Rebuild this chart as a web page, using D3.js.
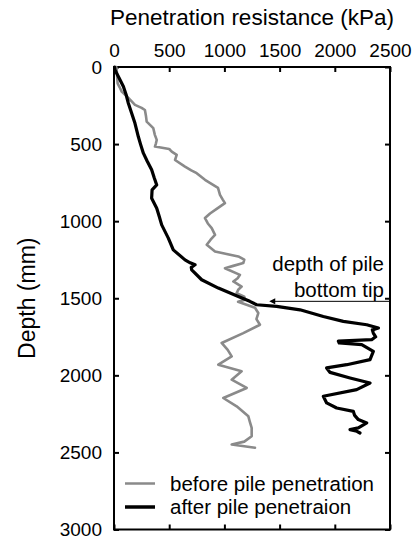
<!DOCTYPE html>
<html>
<head>
<meta charset="utf-8">
<script src="https://cdn.jsdelivr.net/npm/d3@7"></script>
<style>
  html, body { margin: 0; padding: 0; background: #fff; }
  svg { display: block; font-family: "Liberation Sans", Arial, Helvetica, sans-serif; }
</style>
</head>
<body>
<svg id="chart" width="415" height="542"></svg>
<script>
// ---- data ----
const xTicks = [0, 500, 1000, 1500, 2000, 2500];
const yTicks = [0, 500, 1000, 1500, 2000, 2500, 3000];

const beforeDepth = [0, 15, 60, 106, 130, 160, 200, 246, 265, 279, 320, 354, 397, 440, 473, 495, 516, 532, 549, 570, 603, 646, 670, 689, 732, 784, 829, 860, 883, 920, 950, 980, 1015, 1045, 1089, 1120, 1153, 1197, 1229, 1250, 1272, 1290, 1305, 1348, 1370, 1391, 1424, 1445, 1467, 1490, 1510, 1523, 1562, 1596, 1635, 1672, 1726, 1790, 1835, 1877, 1931, 1974, 2028, 2082, 2147, 2201, 2266, 2300, 2341, 2395, 2430, 2449, 2470];
const beforeVal   = [20, 24, 28, 33, 50, 70, 130, 190, 250, 280, 290, 296, 356, 370, 387, 380, 371, 500, 523, 568, 553, 643, 700, 749, 824, 942, 960, 985, 1005, 930, 870, 824, 850, 885, 915, 875, 840, 915, 1126, 1180, 1171, 1080, 1005, 1141, 1120, 1081, 1156, 1125, 1111, 1180, 1187, 1124, 1277, 1307, 1290, 1322, 1171, 975, 1030, 1066, 945, 1156, 1066, 1202, 990, 1111, 1217, 1230, 1247, 1247, 1180, 1066, 1277];

const afterDepth = [0, 19, 70, 127, 180, 235, 300, 365, 451, 500, 559, 610, 667, 720, 765, 797, 851, 916, 970, 1024, 1110, 1186, 1251, 1270, 1283, 1300, 1316, 1380, 1434, 1488, 1520, 1542, 1553, 1575, 1618, 1650, 1672, 1693, 1705, 1726, 1750, 1769, 1778, 1790, 1801, 1845, 1898, 1931, 1952, 1981, 2017, 2050, 2093, 2136, 2179, 2212, 2234, 2260, 2287, 2309, 2330, 2341, 2352, 2363, 2374];
const afterVal   = [5, 9, 45, 85, 110, 130, 160, 190, 220, 240, 266, 300, 341, 365, 387, 345, 341, 387, 410, 432, 492, 537, 643, 690, 734, 700, 704, 794, 945, 1126, 1230, 1292, 1473, 1685, 1896, 2077, 2289, 2395, 2340, 2349, 2370, 2334, 2032, 2040, 2244, 2349, 2319, 2108, 1926, 1957, 2138, 2319, 2198, 1896, 1926, 2017, 2168, 2180, 2213, 2289, 2240, 2213, 2138, 2200, 2228];

const seriesNames = ["before pile penetration", "after pile penetraion"];
const seriesColors = ["#8a8a8a", "#000000"];
const pileTipDepth = 1520;
const annotationLines = ["depth of pile", "bottom tip"];
const xTitle = "Penetration resistance (kPa)";
const yTitle = "Depth (mm)";

// ---- layout ----
const svg = d3.select("#chart");
const x = d3.scaleLinear().domain([0, 2500]).range([114, 390]);
const y = d3.scaleLinear().domain([0, 3000]).range([67, 529.5]);
const font = "'Liberation Sans', Arial, Helvetica, sans-serif";
const fmt = d3.format("d");

// axes
const axTop = svg.append("g").attr("transform", `translate(0,${y(0)})`)
  .call(d3.axisTop(x).tickValues(xTicks).tickFormat(fmt).tickSizeInner(-5).tickSizeOuter(0).tickPadding(10));
const axLeft = svg.append("g").attr("transform", `translate(${x(0)},0)`)
  .call(d3.axisLeft(y).tickValues(yTicks).tickFormat(fmt).tickSizeInner(-5).tickSizeOuter(0).tickPadding(12));
const axBottom = svg.append("g").attr("transform", `translate(0,${y(3000)})`)
  .call(d3.axisBottom(x).tickValues(xTicks).tickSizeInner(-5).tickSizeOuter(0).tickFormat(""));
const axRight = svg.append("g").attr("transform", `translate(${x(2500)},0)`)
  .call(d3.axisRight(y).tickValues(yTicks).tickSizeInner(-5).tickSizeOuter(0).tickFormat(""));

[axTop, axLeft, axBottom, axRight].forEach(g => {
  g.select(".domain").remove();
  g.selectAll(".tick line").attr("stroke", "#000").attr("stroke-width", 2);
  g.selectAll(".tick text").attr("fill", "#000").attr("font-family", font).attr("font-size", 19);
});

// frame
svg.append("rect")
  .attr("x", x(0)).attr("y", y(0))
  .attr("width", x(2500) - x(0)).attr("height", y(3000) - y(0))
  .attr("fill", "none").attr("stroke", "#000").attr("stroke-width", 2);

// titles
svg.append("text").attr("x", (x(0) + x(2500)) / 2).attr("y", 25)
  .attr("text-anchor", "middle").attr("font-family", font).attr("font-size", 22.5)
  .attr("fill", "#000").text(xTitle);
svg.append("text").attr("transform", `translate(35,${(y(0) + y(3000)) / 2}) rotate(-90)`)
  .attr("text-anchor", "middle").attr("font-family", font).attr("font-size", 23)
  .attr("fill", "#000").text(yTitle);

// lines
const line = d3.line().x(d => x(d[1])).y(d => y(d[0]));
const beforeData = d3.zip(beforeDepth, beforeVal);
const afterData = d3.zip(afterDepth, afterVal);

svg.append("path").datum(beforeData).attr("d", line)
  .attr("fill", "none").attr("stroke", seriesColors[0]).attr("stroke-width", 2.6)
  .attr("stroke-linejoin", "round").attr("stroke-linecap", "round");
svg.append("path").datum(afterData).attr("d", line)
  .attr("fill", "none").attr("stroke", seriesColors[1]).attr("stroke-width", 3.2)
  .attr("stroke-linejoin", "round").attr("stroke-linecap", "round");

// annotation
svg.append("defs").append("marker")
  .attr("id", "arrow").attr("viewBox", "0 0 10 10").attr("refX", 1).attr("refY", 5)
  .attr("markerWidth", 7).attr("markerHeight", 6).attr("markerUnits", "userSpaceOnUse")
  .attr("orient", "auto")
  .append("path").attr("d", "M10,5 L0,0 L0,10 Z").attr("fill", "#000");
svg.append("line")
  .attr("x1", x(2500)).attr("x2", x(1455))
  .attr("y1", y(pileTipDepth)).attr("y2", y(pileTipDepth))
  .attr("stroke", "#000").attr("stroke-width", 1)
  .attr("marker-end", "url(#arrow)");
annotationLines.forEach((t, i) => {
  svg.append("text").attr("x", 384).attr("y", 271 + i * 25.5)
    .attr("text-anchor", "end").attr("font-family", font).attr("font-size", 20.5)
    .attr("fill", "#000").text(t);
});

// legend
seriesNames.forEach((name, i) => {
  const ly = 483.5 + i * 23.5;
  svg.append("line").attr("x1", 125).attr("x2", 155).attr("y1", ly).attr("y2", ly)
    .attr("stroke", seriesColors[i]).attr("stroke-width", i === 0 ? 2.5 : 3.5);
  svg.append("text").attr("x", 170).attr("y", ly + 7)
    .attr("font-family", font).attr("font-size", 20.5).attr("fill", "#000").text(name);
});
</script>
</body>
</html>
